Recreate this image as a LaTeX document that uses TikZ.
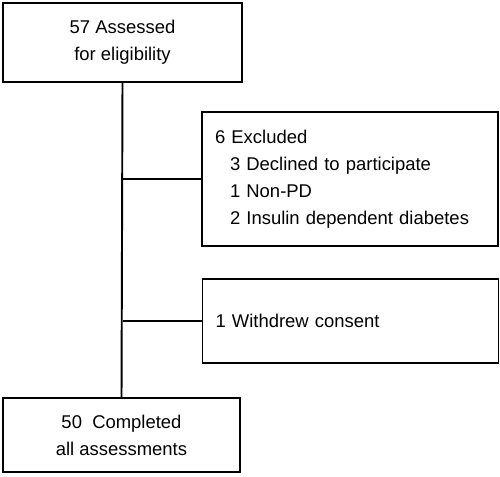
\documentclass[tikz,border=0pt]{standalone}
\usepackage{fontspec}
\setmainfont{Liberation Sans}
\usepackage{tikz}
\usetikzlibrary{positioning, calc}

\begin{document}
\begin{tikzpicture}[
      box/.style={draw=black, line width=1.1pt, minimum height=1.5cm, font=\fontsize{10.5}{15.4}\selectfont, align=center},
      sidebox/.style={box, minimum width=5.92cm, align=left, text width=5.4cm, inner xsep=0.26cm},
      link/.style={line width=1.1pt, draw=black}
    ]

      % Fix the page size to the reference proportions
      \useasboundingbox (0, 0) rectangle (10, -9.52);

      % Main flow boxes
      \node[box, minimum width=4.78cm, minimum height=1.58cm] (assessed) at (2.45, -0.85) {57 Assessed\\for eligibility};
      \node[box, minimum width=4.74cm, minimum height=1.48cm] (completed) at (2.43, -8.7) {50\ \ Completed\\all assessments};

      % Side boxes for those leaving the study
      \node[sidebox, minimum height=2.68cm] (excluded) at (7.0, -3.58) {6 Excluded\\
        \hspace*{0.3cm}3 Declined to participate\\
        \hspace*{0.3cm}1 Non-PD\\
        \hspace*{0.3cm}2 Insulin dependent diabetes};
      \node[sidebox, minimum height=1.68cm] (withdrew) at (7.01, -6.42) {1 Withdrew consent};

      % Trunk line and branches
      \draw[link] (assessed.south) -- (completed.north);
      \draw[link] (assessed.south |- excluded.west) -- (excluded.west);
      \draw[link] (assessed.south |- withdrew.west) -- (withdrew.west);

    \end{tikzpicture}
\end{document}
